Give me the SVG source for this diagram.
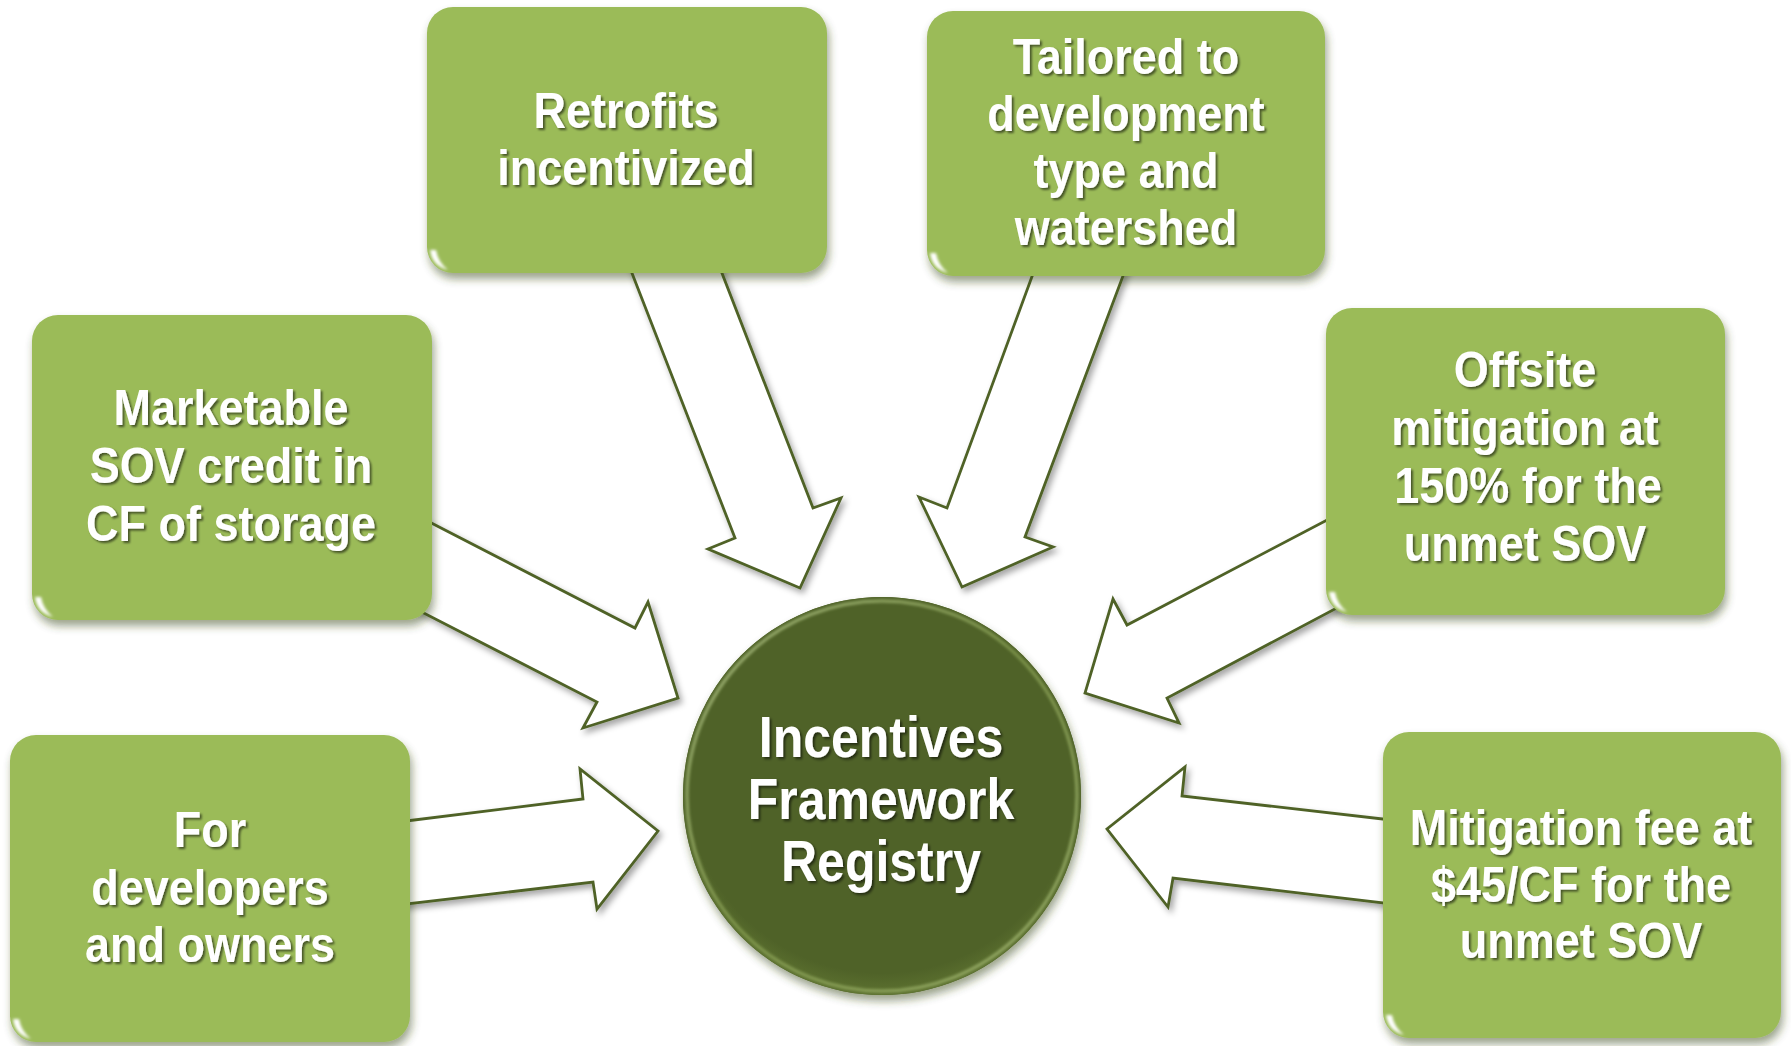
<svg xmlns="http://www.w3.org/2000/svg" width="1791" height="1046" viewBox="0 0 1791 1046">
  <defs>
    <filter id="boxShadow" x="-10%" y="-10%" width="125%" height="130%">
      <feGaussianBlur in="SourceAlpha" stdDeviation="4"/>
      <feOffset dx="2" dy="6" result="b"/>
      <feFlood flood-color="#3a4a1a" flood-opacity="0.5"/>
      <feComposite in2="b" operator="in"/>
      <feMerge><feMergeNode/><feMergeNode in="SourceGraphic"/></feMerge>
    </filter>
    <filter id="arrowShadow" x="-10%" y="-10%" width="130%" height="130%">
      <feGaussianBlur in="SourceAlpha" stdDeviation="3"/>
      <feOffset dx="3" dy="4" result="b"/>
      <feFlood flood-color="#000" flood-opacity="0.35"/>
      <feComposite in2="b" operator="in"/>
      <feMerge><feMergeNode/><feMergeNode in="SourceGraphic"/></feMerge>
    </filter>
    <filter id="textShadow" x="-10%" y="-20%" width="120%" height="150%">
      <feGaussianBlur in="SourceAlpha" stdDeviation="1.2"/>
      <feOffset dx="2" dy="2" result="b"/>
      <feFlood flood-color="#000" flood-opacity="0.55"/>
      <feComposite in2="b" operator="in"/>
      <feMerge><feMergeNode/><feMergeNode in="SourceGraphic"/></feMerge>
    </filter>
    <filter id="soft" x="-20%" y="-20%" width="140%" height="140%">
      <feGaussianBlur stdDeviation="1.4"/>
    </filter>
    <radialGradient id="hubFill" cx="50%" cy="45%" r="55%">
      <stop offset="0" stop-color="#4f6228"/>
      <stop offset="0.9" stop-color="#4f6228"/>
      <stop offset="1" stop-color="#5d7230"/>
    </radialGradient>
    <linearGradient id="hubRim" x1="0" y1="0" x2="1" y2="1">
      <stop offset="0" stop-color="#c3d69b"/>
      <stop offset="0.5" stop-color="#8ea657"/>
      <stop offset="1" stop-color="#b5ca86"/>
    </linearGradient>
    <style>
      .box { fill: #9bbb59; }
      .gloss { fill: none; stroke: #eef5de; stroke-linecap: round; opacity: 0.9; filter: url(#soft); }
      .spot { fill: #ffffff; filter: url(#soft); }
      .arrow { fill: #ffffff; stroke: #4f6228; stroke-width: 2.8; stroke-linejoin: miter; }
      .t { font-family: "Liberation Sans", Arial, sans-serif; font-weight: bold; font-size: 45px; fill: #ffffff; text-anchor: middle; }
      .hub { font-size: 50px; }
    </style>
  </defs>

  <rect width="1791" height="1046" fill="#ffffff"/>

  <!-- block arrows pointing at the hub -->
  <g id="connectors" filter="url(#arrowShadow)">
    <polygon class="arrow" points="623,250 735,538 708,549 800,588 841,498 813,508 713,250"/>
    <polygon class="arrow" points="1041,252 947,508 919,497 962,587 1053,547 1025,537 1132,252"/>
    <polygon class="arrow" points="410,512 635,628 648,602 678,698 583,728 597,702 410,606"/>
    <polygon class="arrow" points="1350,508 1127,625 1113,599 1085,693 1179,723 1167,698 1350,601"/>
    <polygon class="arrow" points="390,823 583,799 580,769 658,831 597,909 593,882 390,906"/>
    <polygon class="arrow" points="1400,821 1182,796 1185,767 1107,829 1168,907 1173,878 1400,905"/>
  </g>

  <!-- hub -->
  <g id="hub">
    <circle cx="882" cy="796" r="199" fill="#4f6228" filter="url(#boxShadow)"/>
    <circle cx="882" cy="796" r="199" fill="url(#hubFill)"/>
    <circle cx="882" cy="796" r="195" fill="none" stroke="url(#hubRim)" stroke-width="3" opacity="0.75" filter="url(#soft)"/>
    <g transform="translate(881,757) scale(1,1.15)" filter="url(#textShadow)">
      <text class="t hub"><tspan x="0" y="0">Incentives</tspan><tspan x="0" y="53.9">Framework</tspan><tspan x="0" y="107.8">Registry</tspan></text>
    </g>
  </g>

  <!-- Retrofits incentivized -->
  <g id="node-retrofits">
    <rect class="box" x="427" y="7" width="400" height="266" rx="26" filter="url(#boxShadow)"/>
    <path class="gloss" d="M455,13 H799" stroke-width="4"/>
    <path class="gloss" d="M822,34 V246" stroke-width="3"/>
    <path class="spot" d="M430,250 Q432,266 448,270 Q438,262 436,250 Z"/>
    <g transform="translate(626,128) scale(1,1.1)" filter="url(#textShadow)">
      <text class="t"><tspan x="0" y="0">Retrofits</tspan><tspan x="0" y="51.8">incentivized</tspan></text>
    </g>
  </g>

  <!-- Tailored to development type and watershed -->
  <g id="node-tailored">
    <rect class="box" x="927" y="11" width="398" height="265" rx="26" filter="url(#boxShadow)"/>
    <path class="gloss" d="M955,17 H1297" stroke-width="4"/>
    <path class="gloss" d="M1320,38 V249" stroke-width="3"/>
    <path class="spot" d="M930,253 Q932,269 948,273 Q938,265 936,253 Z"/>
    <g transform="translate(1126,74) scale(1,1.1)" filter="url(#textShadow)">
      <text class="t"><tspan x="0" y="0">Tailored to</tspan><tspan x="0" y="51.8">development</tspan><tspan x="0" y="103.6">type and</tspan><tspan x="0" y="155.4">watershed</tspan></text>
    </g>
  </g>

  <!-- Marketable SOV credit -->
  <g id="node-marketable">
    <rect class="box" x="32" y="315" width="400" height="305" rx="26" filter="url(#boxShadow)"/>
    <path class="gloss" d="M60,321 H404" stroke-width="4"/>
    <path class="gloss" d="M427,342 V593" stroke-width="3"/>
    <path class="spot" d="M35,597 Q37,613 53,617 Q43,609 41,597 Z"/>
    <g transform="translate(231,425) scale(1,1.1)" filter="url(#textShadow)">
      <text class="t"><tspan x="0" y="0">Marketable</tspan><tspan x="0" y="52.7">SOV credit in</tspan><tspan x="0" y="105.4">CF of storage</tspan></text>
    </g>
  </g>

  <!-- Offsite mitigation -->
  <g id="node-offsite">
    <rect class="box" x="1326" y="308" width="399" height="307" rx="26" filter="url(#boxShadow)"/>
    <path class="gloss" d="M1354,314 H1697" stroke-width="4"/>
    <path class="gloss" d="M1720,335 V588" stroke-width="3"/>
    <path class="spot" d="M1329,592 Q1331,608 1347,612 Q1337,604 1335,592 Z"/>
    <g transform="translate(1525,387) scale(1,1.1)" filter="url(#textShadow)">
      <text class="t"><tspan x="0" y="0">Offsite</tspan><tspan x="0" y="52.7">mitigation at</tspan><tspan x="3" y="105.4">150% for the</tspan><tspan x="0" y="158.1">unmet SOV</tspan></text>
    </g>
  </g>

  <!-- For developers and owners -->
  <g id="node-developers">
    <rect class="box" x="10" y="735" width="400" height="307" rx="26" filter="url(#boxShadow)"/>
    <path class="gloss" d="M38,741 H382" stroke-width="4"/>
    <path class="gloss" d="M405,762 V1015" stroke-width="3"/>
    <path class="spot" d="M13,1019 Q15,1035 31,1039 Q21,1031 19,1019 Z"/>
    <g transform="translate(210,847) scale(1,1.1)" filter="url(#textShadow)">
      <text class="t"><tspan x="0" y="0">For</tspan><tspan x="0" y="52.3">developers</tspan><tspan x="0" y="104.6">and owners</tspan></text>
    </g>
  </g>

  <!-- Mitigation fee -->
  <g id="node-fee">
    <rect class="box" x="1383" y="732" width="398" height="306" rx="26" filter="url(#boxShadow)"/>
    <path class="gloss" d="M1411,738 H1753" stroke-width="4"/>
    <path class="gloss" d="M1776,759 V1011" stroke-width="3"/>
    <path class="spot" d="M1386,1015 Q1388,1031 1404,1035 Q1394,1027 1392,1015 Z"/>
    <g transform="translate(1581,845) scale(1,1.1)" filter="url(#textShadow)">
      <text class="t"><tspan x="0" y="0">Mitigation fee at</tspan><tspan x="0" y="51.4">$45/CF for the</tspan><tspan x="0" y="102.8">unmet SOV</tspan></text>
    </g>
  </g>
</svg>
